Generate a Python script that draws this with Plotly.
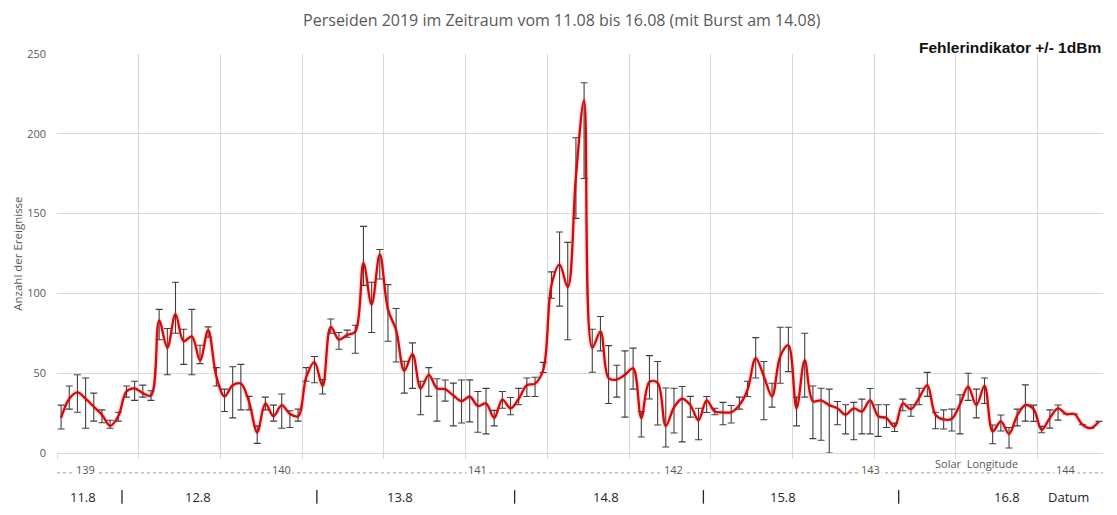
import plotly.graph_objects as go

# ---------------- data (hourly counts) ----------------
HOURS = list(range(128))
VALUES = [
    22, 34, 38, 34, 29, 24, 17, 23, 38.5, 40.5,
    37.5, 36, 83, 66, 87, 70, 73, 58, 77, 48,
    35.5, 42.5, 43.5, 32, 13, 31, 23, 30, 24.5, 23,
    47.5, 57, 42, 79, 71, 74, 76, 119, 93, 124.5,
    90, 77, 51.5, 62, 40.5, 49, 40.5, 40, 36, 32.5,
    35.4, 29.5, 31, 22, 33.5, 28, 34, 42.5, 43.5, 52,
    105, 118, 104, 173, 221, 66, 76, 47, 46, 49,
    53, 22, 44.5, 44, 17, 28.5, 34, 30, 20.5, 33,
    26, 25.5, 25.5, 30, 39.5, 59.5, 48, 35.5, 60.5, 67.5,
    28, 58, 32.5, 33, 30, 28, 24, 28, 26, 33,
    23, 22, 16.5, 31, 27.5, 34.5, 42.5, 24, 21, 21.5,
    30.5, 41.5, 30, 42, 13.5, 19.8, 12, 23.5, 30, 27.5,
    14.5, 22, 28, 24.4, 24.4, 17.7, 15.6, 19.8,
]
UPPER = [
    30, 42, 49, 47, 37.5, 27, 20.5, 25.5, 42, 45,
    42.5, 39, 90, 78, 107, 77.5, 90, 67.5, 79, 53.5,
    40, 54, 55.5, 35.5, 17, 35, 30, 37, 26.5, 27.5,
    53.5, 60.5, 46, 84, 75.5, 77, 80, 142, 107, 127.5,
    105.5, 90.5, 57.5, 69, 45, 53.5, 46.5, 45.7, 43.8, 45.7,
    45.8, 38.5, 40.5, 26.7, 38.5, 34.8, 40.5, 47, 47.5, 56.8,
    113.5, 138.5, 132, 197.5, 232, 77.5, 85.5, 67.3, 55, 64,
    65.7, 26, 61, 57.3, 40.7, 40.6, 41.7, 35.5, 28, 35.4,
    28, 31.7, 29.8, 35, 45, 72.3, 57.3, 43.75, 78.75, 78.75,
    35, 75, 42, 40.6, 40, 32.3, 30.2, 31.7, 33.75, 40.4,
    30.2, 30.2, 18.75, 33.75, 30.2, 40.6, 50.5, 25.5, 27, 27.5,
    36.5, 50, 40, 47, 17.5, 23.8, 16, 27.5, 42.7, 30,
    16.7, 27, 30.1, None, None, None, None, None,
]
LOWER = [
    15, 27.5, 25.5, 15.5, 20, 19, 15.5, 20, 35, 33,
    35, 33, 71, 49, 75, 55.5, 49, 56, 72.5, 42,
    26, 22, 27, 27, 6, 27, 20, 15.5, 16, 20,
    45, 44, 37, 75, 65, 72.5, 62.5, 105, 75.5, 109,
    70, 57, 37.5, 40.5, 24, 35.5, 20, 32.5, 17, 18.8,
    19.5, 13, 12, 17, 28, 24, 30.2, 35.4, 35.4, 50.4,
    97, 92, 71, 147, 172, 50.6, 64, 31, 35, 22.5,
    40, 10, 33.8, 17.5, 3.8, 12.5, 7, 22.5, 8.3, 25.4,
    24, 17.7, 18.8, 27.5, 35.4, 47, 20.8, 28.75, 43.75, 51,
    17, 35, 9, 8, 0, 17.7, 12, 8.3, 12, 12,
    10.4, 16, 13.5, 26.5, 23, 30.2, 35.5, 15.2, 15, 13.8,
    12, 33, 22, 31, 5.8, 13.8, 3.1, 17, 20, 19.8,
    12.7, 15.6, 20.6, None, None, None, None, None,
]
SOLAR_LON_LABELS = ["139", "140", "141", "142", "143", "144"]
DATE_LABELS = ["11.8", "12.8", "13.8", "14.8", "15.8", "16.8"]

TITLE = "Perseiden 2019 im Zeitraum vom 11.08 bis 16.08 (mit Burst am 14.08)"
Y_TITLE = "Anzahl der Ereignisse"
ERR_NOTE = "Fehlerindikator +/- 1dBm"

# ---------------- derived error arrays ----------------
err_plus = [(u - v) if u is not None else None for u, v in zip(UPPER, VALUES)]
err_minus = [(v - l) if l is not None else None for l, v in zip(LOWER, VALUES)]

GRAY = "#595959"
GRID = "#d9d9d9"
FONT = "Open Sans"

fig = go.Figure()

# soft glow under the line
fig.add_trace(go.Scatter(
    x=HOURS, y=VALUES, mode="lines",
    line=dict(color="rgba(255,80,80,0.18)", width=5, shape="spline", smoothing=1.0),
    hoverinfo="skip", showlegend=False,
))
# error bars
fig.add_trace(go.Scatter(
    x=HOURS, y=VALUES, mode="markers",
    marker=dict(size=1, color="rgba(0,0,0,0)"),
    error_y=dict(type="data", symmetric=False, array=err_plus, arrayminus=err_minus,
                 color="#404040", thickness=1.1, width=3.5),
    showlegend=False,
))
# main smoothed line
fig.add_trace(go.Scatter(
    x=HOURS, y=VALUES, mode="lines",
    line=dict(color="#d20a0a", width=2.3, shape="spline", smoothing=1.0),
    showlegend=False,
))

n = len(HOURS)
grid_ticks = [i - 0.5 for i in range(0, n, 10)]

fig.update_xaxes(
    range=[-0.5, n - 0.5], tickvals=grid_ticks, showticklabels=False,
    showgrid=True, gridcolor=GRID, gridwidth=1,
    ticks="outside", ticklen=5, tickcolor=GRID,
    showline=True, linecolor=GRID, zeroline=False,
)
fig.update_yaxes(
    range=[0, 250], tickvals=[0, 50, 100, 150, 200, 250],
    showgrid=True, gridcolor=GRID, gridwidth=1, zeroline=False,
    showline=False, ticks="", ticklabelstandoff=10,
    tickfont=dict(family=FONT, size=11, color=GRAY),
)

annotations = []
# y axis title
annotations.append(dict(text=Y_TITLE, xref="paper", yref="paper", x=-0.038, y=0.5,
                        textangle=-90, showarrow=False, xanchor="center", yanchor="middle",
                        font=dict(family=FONT, size=11.5, color=GRAY)))
# error indicator note
annotations.append(dict(text=ERR_NOTE, xref="paper", yref="paper", x=1.0, y=1.0175,
                        showarrow=False, xanchor="right", yanchor="middle",
                        font=dict(family="Liberation Sans", size=15.5, color="#111111", weight="bold")))
# solar longitude labels (one per ~24 hours)
sl_pos = [3, 27, 51, 75, 99, 123]
for lab, p in zip(SOLAR_LON_LABELS, sl_pos):
    annotations.append(dict(text=lab, xref="x", yref="paper", x=p, y=-0.042,
                            showarrow=False, xanchor="center", yanchor="middle",
                            bgcolor="white", borderpad=1,
                            font=dict(family=FONT, size=11, color=GRAY)))
annotations.append(dict(text="Solar&nbsp;&nbsp;Longitude", xref="x", yref="paper", x=112, y=-0.026,
                        showarrow=False, xanchor="center", yanchor="middle",
                        font=dict(family=FONT, size=11, color=GRAY)))
# dates row
date_pos = [2.7, 16.7, 41.5, 66.7, 88.3, 115.8]
for lab, p in zip(DATE_LABELS, date_pos):
    annotations.append(dict(text=lab, xref="x", yref="paper", x=p, y=-0.11,
                            showarrow=False, xanchor="center", yanchor="middle",
                            font=dict(family=FONT, size=13, color="#262626")))
annotations.append(dict(text="Datum", xref="x", yref="paper", x=123.3, y=-0.11,
                        showarrow=False, xanchor="center", yanchor="middle",
                        font=dict(family=FONT, size=13, color="#262626")))

shapes = [dict(type="line", xref="paper", yref="paper", x0=0, x1=1, y0=-0.05, y1=-0.05,
               line=dict(color="#b0b0b0", width=1.2, dash="dot"), layer="below")]
# day separators
sep_pos = [7.45, 31.3, 55.5, 78.6, 102.5]
for p in sep_pos:
    shapes.append(dict(type="line", xref="x", yref="paper", x0=p, x1=p, y0=-0.093, y1=-0.127,
                       line=dict(color="#262626", width=1.3)))

fig.update_layout(
    width=1117, height=515,
    margin=dict(l=57, r=14, t=54, b=62),
    paper_bgcolor="white", plot_bgcolor="white",
    title=dict(text=TITLE, x=0.503, xanchor="center", y=1 - 20 / 515, yanchor="middle",
               font=dict(family=FONT, size=16, color=GRAY)),
    annotations=annotations, shapes=shapes,
    showlegend=False,
)

fig.write_html("out.html")
